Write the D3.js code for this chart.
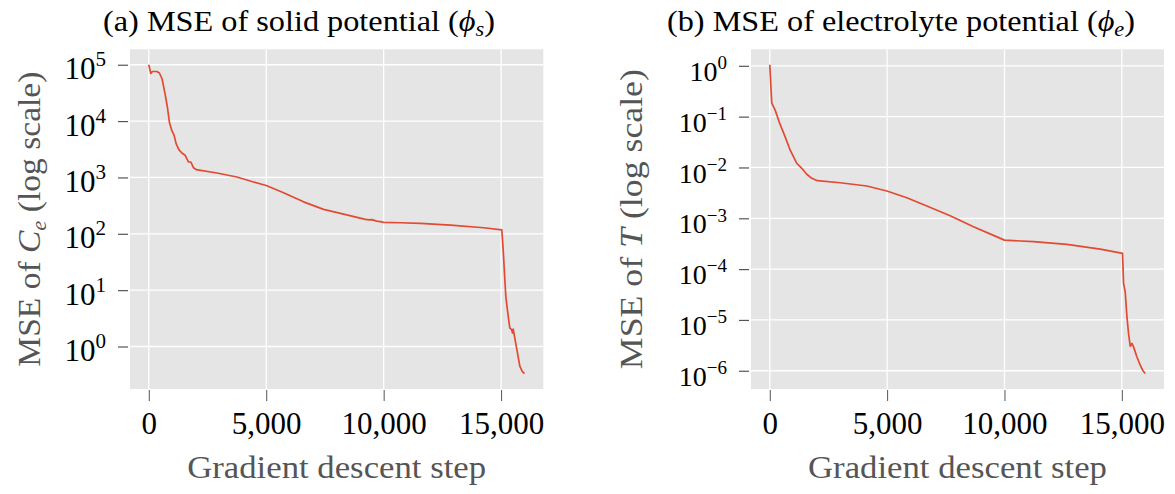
<!DOCTYPE html>
<html>
<head>
<meta charset="utf-8">
<script src="https://cdn.jsdelivr.net/npm/d3@7"></script>
<style>
  body { margin: 0; background: #ffffff; }
  text { font-family: "Liberation Serif", "Times New Roman", serif; }
</style>
</head>
<body>
<svg id="fig" width="1175" height="494"></svg>
<script>
// Training history: gradient descent step vs. mean squared error
const stepsA = [0, 85, 155, 340, 452, 567, 695, 793, 878, 980, 1078, 1164, 1279, 1407, 1547, 1688, 1790, 1901, 2016,
  2899, 3751, 4460, 5000, 5738, 6590, 7443, 8295, 9220, 9400, 9500, 9700, 9860, 10000, 10710, 11564, 12842, 14262,
  15030, 15090, 15160, 15200, 15285, 15370, 15443, 15486, 15516, 15571, 15686, 15797, 15900, 15997];
const mseA = [100000, 70100, 75900, 75900, 71300, 55800, 30200, 17600, 9550, 6820, 5570, 3980, 3120, 2710, 2470, 1880, 1880, 1490, 1380,
  1200, 1020, 832, 719, 537, 369, 271, 224, 180, 176, 178, 168, 164, 160, 157, 153, 143, 128,
  117, 51.3, 15.3, 7.76, 3.94, 2.14, 2.0, 1.74, 2.04, 1.51, 0.822, 0.447, 0.363, 0.331];

const stepsB = [0, 85, 226, 410, 652, 865, 1151, 1364, 1577, 1790, 2030, 2997, 4135, 4987, 5840, 6692, 7685, 8679, 9532,
  10000, 11237, 12660, 14080, 15030, 15073, 15145, 15218, 15286, 15358, 15430, 15500, 15643, 15785, 15900, 15997];
const mseB = [1.05, 0.184, 0.136, 0.0764, 0.0405, 0.0221, 0.0121, 0.00964, 0.00735, 0.00612, 0.0055, 0.00501, 0.00432, 0.00344,
  0.00254, 0.00174, 0.00112, 0.000682, 0.000461, 0.000372, 0.000347, 0.000306, 0.000248, 0.000204, 5.25e-5, 3.57e-5,
  1.15e-5, 5.41e-6, 3.04e-6, 3.44e-6, 2.95e-6, 1.87e-6, 1.29e-6, 1.0e-6, 8.81e-7];

const xTicks = [0, 5000, 10000, 15000];
const yExpA = [0, 1, 2, 3, 4, 5];
const yExpB = [-6, -5, -4, -3, -2, -1, 0];

const titleA = ["(a) MSE of solid potential (", "ϕ", "s", ")"];
const titleB = ["(b) MSE of electrolyte potential (", "ϕ", "e", ")"];
const xLabel = "Gradient descent step";
const yLabelA = ["MSE of ", "C", "e", " (log scale)"];
const yLabelB = ["MSE of ", "T", "", " (log scale)"];

const svg = d3.select("#fig");
const LINE = "#E24A33", PANEL = "#E5E5E5", GRAY = "#555555";

function drawPanel(cfg) {
  const { left, right, top, bottom, steps, mse, yExp, title, titleX, titleLen, yLab, yLabX, yLabLen, yTickFont, yTickDy } = cfg;

  // 5% margins around the data, in linear x and log y
  const xe = d3.extent(steps), xp = (xe[1] - xe[0]) * 0.05;
  const x = d3.scaleLinear().domain([xe[0] - xp, xe[1] + xp]).range([left, right]);
  const le = d3.extent(mse.map(Math.log10)), lp = (le[1] - le[0]) * 0.05;
  const y = d3.scaleLog().domain([Math.pow(10, le[0] - lp), Math.pow(10, le[1] + lp)]).range([bottom, top]);

  const g = svg.append("g");
  g.append("rect").attr("x", left).attr("y", top).attr("width", right - left).attr("height", bottom - top).attr("fill", PANEL);

  const yVals = yExp.map(e => Math.pow(10, e));
  g.selectAll(".gx").data(xTicks).join("line")
    .attr("x1", d => x(d)).attr("x2", d => x(d)).attr("y1", top).attr("y2", bottom)
    .attr("stroke", "#ffffff").attr("stroke-width", 1.3);
  g.selectAll(".gy").data(yVals).join("line")
    .attr("x1", left).attr("x2", right).attr("y1", d => y(d)).attr("y2", d => y(d))
    .attr("stroke", "#ffffff").attr("stroke-width", 1.3);

  // x axis
  const xa = g.append("g").attr("transform", `translate(0,${bottom + 1})`)
    .call(d3.axisBottom(x).tickValues(xTicks).tickSize(11).tickPadding(11).tickFormat(d3.format(",")));
  xa.select(".domain").remove();
  xa.selectAll(".tick line").attr("stroke", GRAY).attr("stroke-width", 1);
  xa.selectAll(".tick text").attr("font-size", 31).attr("fill", "#000")
    .style("font-family", '"Liberation Serif", serif');

  // y axis (powers of ten)
  const ya = g.append("g").attr("transform", `translate(${left - 2},0)`)
    .call(d3.axisLeft(y).tickValues(yVals).tickSize(10).tickPadding(12).tickFormat(() => ""));
  ya.select(".domain").remove();
  ya.selectAll(".tick line").attr("stroke", GRAY).attr("stroke-width", 1.2);
  ya.selectAll(".tick text").each(function (d) {
    const t = d3.select(this).attr("font-size", yTickFont).attr("fill", "#000").attr("dy", yTickDy)
      .style("font-family", '"Liberation Serif", serif');
    const e = Math.round(Math.log10(d));
    t.append("tspan").text("10");
    t.append("tspan").attr("font-size", yTickFont * 0.68).attr("dy", -yTickFont * 0.42)
      .text(e < 0 ? "\u2212" + (-e) : String(e));
  });

  // loss curve
  const line = d3.line().x((d, i) => x(steps[i])).y(d => y(d));
  g.append("path").datum(mse).attr("d", line).attr("fill", "none")
    .attr("stroke", LINE).attr("stroke-width", 1.7).attr("stroke-linejoin", "round");

  // title
  const tt = g.append("text").attr("x", titleX).attr("y", 31).attr("text-anchor", "middle")
    .attr("font-size", 29).attr("fill", "#000")
    .attr("textLength", titleLen).attr("lengthAdjust", "spacingAndGlyphs");
  tt.append("tspan").text(title[0]);
  tt.append("tspan").attr("font-style", "italic").text(title[1]);
  tt.append("tspan").attr("font-size", 20).attr("dy", 5).attr("font-style", "italic").text(title[2]);
  tt.append("tspan").attr("dy", -5).text(title[3]);

  // x label
  g.append("text").attr("x", (left + right) / 2).attr("y", 478).attr("text-anchor", "middle")
    .attr("font-size", 31).attr("fill", GRAY)
    .attr("textLength", 299).attr("lengthAdjust", "spacingAndGlyphs").text(xLabel);

  // y label
  const yl = g.append("text").attr("transform", `translate(${yLabX},${(top + bottom) / 2}) rotate(-90)`)
    .attr("text-anchor", "middle").attr("font-size", 31).attr("fill", GRAY)
    .attr("textLength", yLabLen).attr("lengthAdjust", "spacingAndGlyphs");
  yl.append("tspan").text(yLab[0]);
  yl.append("tspan").attr("font-style", "italic").text(yLab[1]);
  if (yLab[2]) {
    yl.append("tspan").attr("font-style", "italic").attr("font-size", 21).attr("dy", 6).text(yLab[2]);
    yl.append("tspan").attr("dy", -6).text(yLab[3]);
  } else {
    yl.append("tspan").text(yLab[3]);
  }
}

drawPanel({ left: 130, right: 543.3, top: 49.3, bottom: 389, steps: stepsA, mse: mseA, yExp: yExpA,
  title: titleA, titleX: 299, titleLen: 392, yLab: yLabelA, yLabX: 40, yLabLen: 295, yTickFont: 31, yTickDy: "0.45em" });
drawPanel({ left: 751, right: 1164, top: 49.3, bottom: 389, steps: stepsB, mse: mseB, yExp: yExpB,
  title: titleB, titleX: 901, titleLen: 468, yLab: yLabelB, yLabX: 641.5, yLabLen: 300, yTickFont: 28, yTickDy: "0.52em" });
</script>
</body>
</html>
